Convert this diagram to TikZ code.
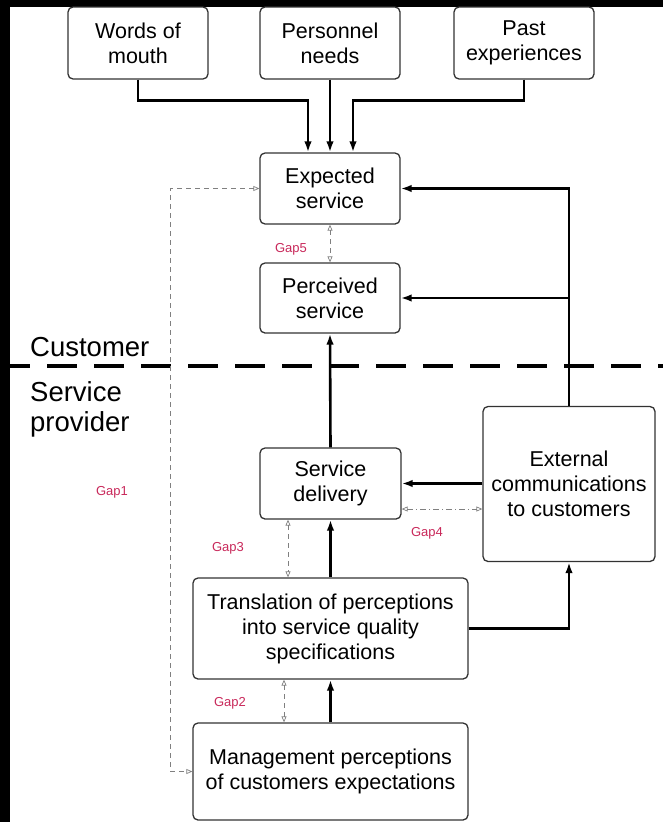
\documentclass[tikz,border=0pt]{standalone}
\usepackage{fontspec}
\setmainfont{Liberation Sans}
\usetikzlibrary{arrows.meta}

\definecolor{gapred}{RGB}{200,40,90}
\definecolor{boxgray}{RGB}{50,50,50}

\begin{document}
\begin{tikzpicture} [x=1pt, y=-1pt,
  box/.style={draw=boxgray, line width=1.3pt, rounded corners=5pt, align=center, inner sep=0pt, font=\fontsize{21.5}{25}\selectfont},
  flow/.style={line width=2.6pt, -{Latex[length=11pt, width=7.5pt]}},
  gap/.style={gray, line width=0.7pt, dash pattern=on 5pt off 4pt, {Triangle[open, length=6pt, width=5pt]}-{Triangle[open, length=6pt, width=5pt]}},
  gaplbl/.style={text=gapred, inner sep=0pt, font=\fontsize{13}{15}\selectfont}]

\useasboundingbox (0,0) rectangle (663,822);
\fill[black] (0,0) rectangle (10,822);
\fill[black] (0,0) rectangle (663,7);

% customer side
\node[box, minimum width=140pt, minimum height=72pt] (wom) at (138,43) {Words of\\mouth};
\node[box, minimum width=140pt, minimum height=72pt] (pn) at (330,43) {Personnel\\needs};
\node[box, minimum width=140pt, minimum height=72pt] (pe) at (524,43) {Past\\experiences};
\node[box, minimum width=140pt, minimum height=71pt] (exp) at (330,188.5) {Expected\\service};
\node[box, minimum width=140pt, minimum height=70pt] (per) at (330,298) {Perceived\\service};

% provider side
\node[box, minimum width=141pt, minimum height=71pt] (del) at (330.5,483.5) {Service\\delivery};
\node[box, minimum width=172pt, minimum height=155pt] (ext) at (569,484) {External\\communications\\to customers};
\node[box, minimum width=275pt, minimum height=101pt] (tra) at (330.5,628.5) {Translation of perceptions\\into service quality\\specifications};
\node[box, minimum width=275pt, minimum height=97pt] (man) at (330.5,771.5) {Management perceptions\\of customers expectations};

\draw[line width=3.5pt, dash pattern=on 30pt off 17pt] (0,366)--(663,366);
\node[anchor=west, inner sep=0pt, font=\fontsize{27.5}{30}\selectfont] (cust) at (30,347) {Customer};
\node[anchor=west, align=left, inner sep=0pt, font=\fontsize{27.5}{30}\selectfont] (prov) at (30,409) {Service\\provider};

\draw[flow] (wom.south)--++(0,21) -| ([xshift=-22pt]exp.north);
\draw[flow] (pn.south)--(exp.north);
\draw[flow] (pe.south)--++(0,21) -| ([xshift=23pt]exp.north);
\draw[flow] (ext.north) |- (exp.east);
\draw[flow] (ext.north |- per.east)--(per.east);
\draw[flow] (del.north)--(per.south);
\draw[flow] (ext.west |- del.east)--(del.east);
\draw[flow] (tra.north)--(del.south);
\draw[flow] (tra.east) -| (ext.south);
\draw[flow] (man.north)--(tra.south);

% gaps
\draw[gap] (exp.west)--++(-89,0) |- (man.west);
\draw[gap] (exp.south)--(per.north);
\draw[gap] ([xshift=-42.5pt]del.south)--([xshift=-42.5pt]del.south |- tra.north);
\draw[gap] ([xshift=-46.5pt]tra.south)--([xshift=-46.5pt]tra.south |- man.north);
\draw[gap, dash pattern=on 6pt off 3pt on 1pt off 3pt] ([yshift=-25.5pt]del.east)--([yshift=-25.5pt]del.east -| ext.west);
\node[gaplbl] (g1) at (112,492) {Gap1};
\node[gaplbl] (g2) at (230,703) {Gap2};
\node[gaplbl] (g3) at (228,548) {Gap3};
\node[gaplbl] (g4) at (427,533) {Gap4};
\node[gaplbl] (g5) at (291,249) {Gap5};

\end{tikzpicture}
\end{document}
